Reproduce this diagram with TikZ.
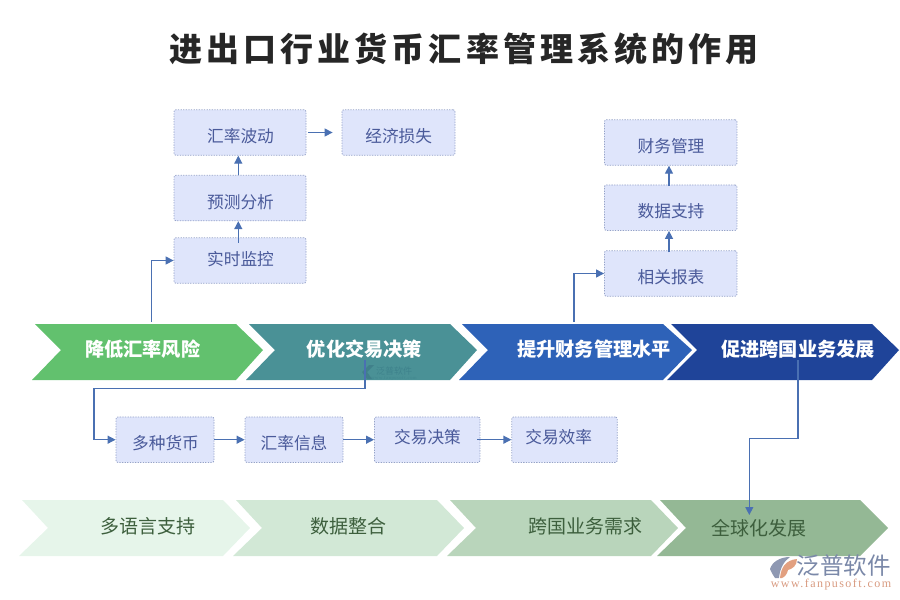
\documentclass[tikz,border=0pt]{standalone}
\usepackage{fontspec}
\setmainfont{Noto Sans CJK SC}
\newfontfamily\titlefont[LetterSpace=12.5]{Noto Sans CJK SC}
\newfontfamily\urlfont[LetterSpace=12]{Liberation Serif}
\usetikzlibrary{arrows.meta}
\definecolor{flowblue}{HTML}{4A70B2}
\definecolor{boxfill}{HTML}{DFE5FB}
\definecolor{boxline}{HTML}{96A3C8}
\definecolor{boxtext}{HTML}{4A5A9A}
\definecolor{lowtext}{HTML}{3D5F3D}
\tikzset{
  infobox/.style={rectangle, rounded corners=2pt, draw=boxline, line width=0.8pt, dash pattern=on 1.3pt off 1.3pt, fill=boxfill, minimum height=45.5pt, inner sep=0pt},
  infotext/.style={text=boxtext, font=\fontsize{16.7}{18}\selectfont, inner sep=0pt},
  uptext/.style={text=white, font=\fontsize{19.2}{21}\selectfont\bfseries, inner sep=0pt},
  lowlabel/.style={text=lowtext, font=\fontsize{19}{20}\selectfont, inner sep=0pt},
  flow/.style={draw=flowblue, line width=1.3pt, -{Stealth[length=8pt,width=8pt,inset=0pt]}},
}
\begin{document}
\begin{tikzpicture}[x=1pt,y=-1pt]
\useasboundingbox (0,0) rectangle (900,600);
\node[font=\titlefont\fontsize{33}{36}\selectfont\bfseries, text=black!85, inner sep=0pt] (title) at (464,49) {进出口行业货币汇率管理系统的作用};

\fill[color={rgb,255:red,98;green,193;blue,110}] (35,324) -- (236,324) -- (263,350) -- (236,380) -- (32,380) -- (61,350) -- cycle;
\fill[color={rgb,255:red,74;green,145;blue,150}] (249,324) -- (450,324) -- (477,350) -- (450,380) -- (246,380) -- (275,350) -- cycle;
\fill[color={rgb,255:red,46;green,98;blue,184}] (462,324) -- (663,324) -- (692,350) -- (663,380) -- (459,380) -- (488,350) -- cycle;
\fill[color={rgb,255:red,31;green,68;blue,153}] (671,324) -- (872,324) -- (899,350) -- (872,380) -- (667,380) -- (697,350) -- cycle;
\node[uptext] (jiangdi) at (142.7,349) {降低汇率风险};
\node[uptext] (youhua) at (364.5,349) {优化交易决策};
\node[uptext] (tisheng) at (594,349) {提升财务管理水平};
\node[uptext] (cujin) at (798,349) {促进跨国业务发展};

\fill[color={rgb,255:red,230;green,245;blue,234}] (22,500) -- (223,500) -- (250,528) -- (223,556) -- (19,556) -- (48,528) -- cycle;
\fill[color={rgb,255:red,210;green,232;blue,214}] (236,500) -- (437,500) -- (464,528) -- (437,556) -- (233,556) -- (262,528) -- cycle;
\fill[color={rgb,255:red,185;green,213;blue,187}] (450,500) -- (651,500) -- (678,528) -- (651,556) -- (447,556) -- (476,528) -- cycle;
\fill[color={rgb,255:red,148;green,184;blue,149}] (660,500) -- (860,500) -- (888,528) -- (860,556) -- (657,556) -- (686,528) -- cycle;
\node[lowlabel] (duoyuyan) at (148,526) {多语言支持};
\node[lowlabel] (zhenghe) at (348,526) {数据整合};
\node[lowlabel] (xuqiu) at (585.7,526) {跨国业务需求};
\node[lowlabel] (quanqiu) at (759,527.7) {全球化发展};

\node[infobox, minimum width=132pt] (bodong) at (240,132.5) {};
\node[infobox, minimum width=113pt] (sunshi) at (398.5,132.5) {};
\node[infobox, minimum width=132pt] (yuce) at (240,198) {};
\node[infobox, minimum width=132pt] (jiankong) at (240,260.5) {};
\node[infobox, minimum width=132.5pt] (caiwu) at (670.7,142.5) {};
\node[infobox, minimum width=132.5pt] (shuju) at (670.7,207.7) {};
\node[infobox, minimum width=132.5pt] (baobiao) at (670.7,273.5) {};
\node[infobox, minimum width=98pt] (huobi) at (165,439.7) {};
\node[infobox, minimum width=98pt] (xinxi) at (294,439.7) {};
\node[infobox, minimum width=105.5pt] (juece) at (427.2,439.7) {};
\node[infobox, minimum width=105.5pt] (xiaolv) at (564.5,439.7) {};
\node[infotext] (bodongt) at (240.5,136) {汇率波动};
\node[infotext] (sunshit) at (398.7,136) {经济损失};
\node[infotext] (yucet) at (240.5,202) {预测分析};
\node[infotext] (jiankongt) at (240.5,259) {实时监控};
\node[infotext] (caiwut) at (671,146) {财务管理};
\node[infotext] (shujut) at (671,211) {数据支持};
\node[infotext] (baobiaot) at (671,277) {相关报表};
\node[infotext] (huobit) at (165.5,443) {多种货币};
\node[infotext] (xinxit) at (294,443) {汇率信息};
\node[infotext] (juecet) at (427.5,437) {交易决策};
\node[infotext] (xiaolvt) at (558.7,437) {交易效率};

\fill[color={rgb,255:red,64;green,128;blue,138}] (362,372) -- (369,365) -- (374,365) -- (367,372) -- (372,379) -- (367,379) -- cycle;
\node[text={rgb,255:red,62;green,130;blue,140}, font=\fontsize{9}{10}\selectfont, inner sep=0pt] (midmark) at (394,371) {泛普软件};
\node[text={rgb,255:red,64;green,134;blue,142}, font=\urlfont\fontsize{4.5}{5}\selectfont, inner sep=0pt] (midurl) at (394,378) {www.fanpusoft.com};

\fill[color={rgb,255:red,142;green,152;blue,178}] (770,569) .. controls (772,562) and (780,557) .. (790,557) .. controls (784,561) and (780,568) .. (779,578) -- (775,578) .. controls (773,575) and (771,572) .. (770,569) -- cycle;
\fill[color={rgb,255:red,226;green,160;blue,128}] (780,578) .. controls (781,567) and (786,560) .. (797,559) .. controls (797,566) and (792,569) .. (788,570) .. controls (787,574) and (785,577) .. (782,578) -- cycle;
\node[text={rgb,255:red,122;green,136;blue,168}, font=\fontsize{23.5}{25}\selectfont, inner sep=0pt] (logomark) at (843.5,566) {泛普软件};
\node[text={rgb,255:red,216;green,154;blue,128}, font=\urlfont\fontsize{12}{13}\selectfont, inner sep=0pt] (logourl) at (831,584.5) {www.fanpusoft.com};

\coordinate (jiangditop) at (151.5,322);
\coordinate (tishengtop) at (574,322);
\coordinate (youhuadown) at (365,360);
\coordinate (cujindown) at (798,360);
\coordinate (quanqiutop) at (749.3,515);

\draw[flow] (jiangditop) -- (151.5,260.5) -- (jiankong.west);
\draw[flow, shorten <=-5.5pt] ([xshift=-1.7pt]jiankong.north) -- ([xshift=-1.7pt]yuce.south);
\draw[flow, shorten <=-0.5pt] ([xshift=-1.7pt]yuce.north) -- ([xshift=-1.7pt]bodong.south);
\draw[flow, shorten <=2pt, shorten >=9pt] (bodong.east) -- (sunshi.west);
\draw[flow] (tishengtop) -- (574,273.5) -- (baobiao.west);
\draw[flow, shorten <=-2pt] ([xshift=-1.7pt]baobiao.north) -- ([xshift=-1.7pt]shuju.south);
\draw[flow, shorten <=-1.5pt] ([xshift=-1.7pt]shuju.north) -- ([xshift=-1.7pt]caiwu.south);
\draw[flow] (youhuadown) -- (365,388.7) -- (94,388.7) -- (94,439.7) -- (huobi.west);
\draw[flow] (huobi) -- (xinxi);
\draw[flow] (xinxi) -- (juece);
\draw[flow, shorten <=-3pt] (juece) -- (xiaolv);
\draw[flow] (cujindown) -- (798,438.3) -- (749.3,438.3) -- (quanqiutop);
\end{tikzpicture}
\end{document}
